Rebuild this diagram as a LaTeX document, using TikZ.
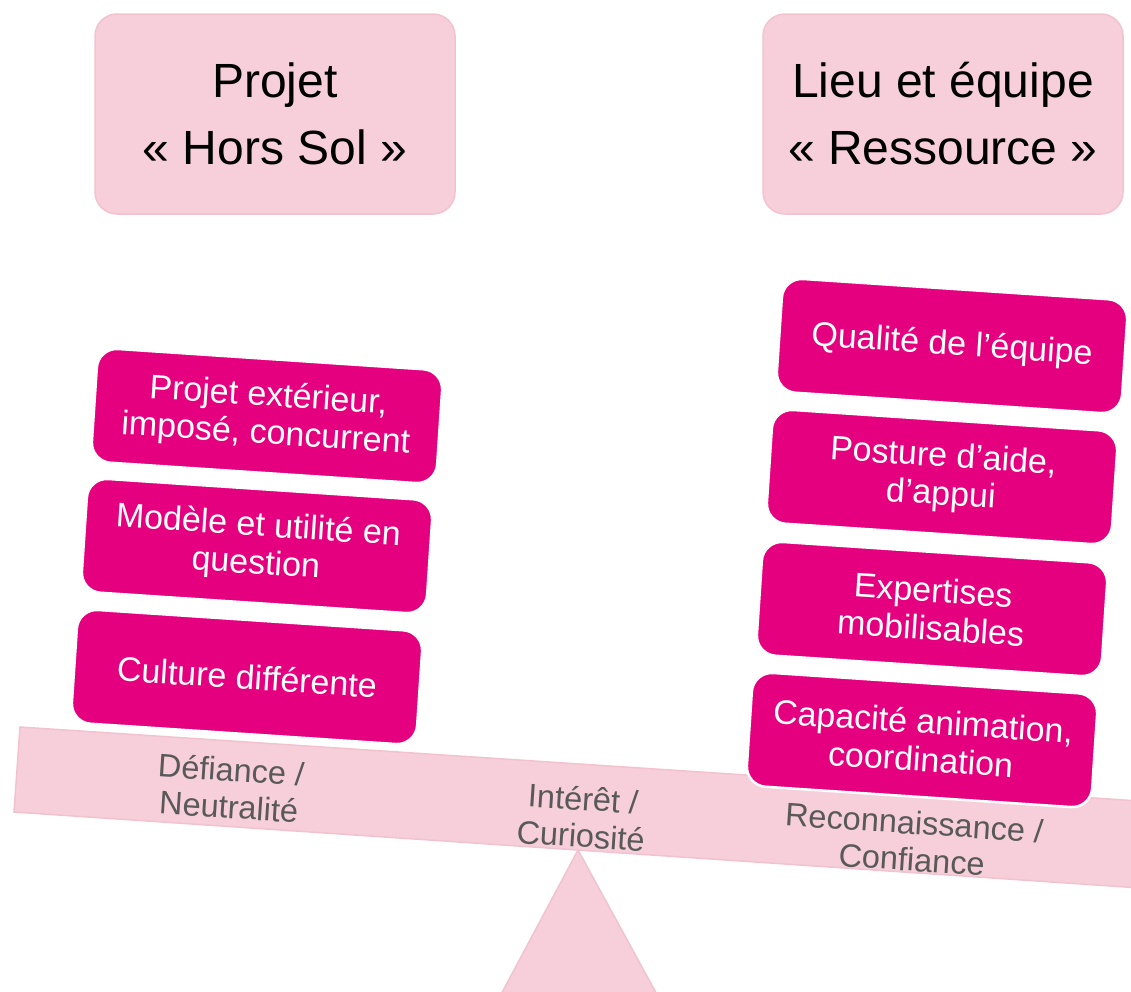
\documentclass[tikz,border=0pt]{standalone}
\usepackage{fontspec}
\setmainfont{Liberation Sans}
\definecolor{pinklight}{HTML}{F6CFDA}
\definecolor{pinkedge}{HTML}{F2C2CF}
\definecolor{magentabox}{HTML}{E4007E}
\definecolor{graytext}{HTML}{595959}
\begin{document}
\begin{tikzpicture}[x=1pt,y=-1pt,
  titlebox/.style={draw=pinkedge,line width=1.5pt,fill=pinklight,rounded corners=22pt,
    minimum width=360pt,minimum height=200pt,inner sep=0pt,align=center,
    font=\fontsize{48}{67}\selectfont,text=black},
  factor/.style={draw=white,line width=2.5pt,fill=magentabox,rounded corners=20pt,
    minimum width=346pt,minimum height=114pt,inner sep=0pt,align=center,
    rotate=-3.8,text=white,font=\fontsize{34}{38}\selectfont},
  beamlabel/.style={align=center,text=graytext,rotate=-3.8,inner sep=0pt,
    font=\fontsize{32.5}{37}\selectfont},
  beamstyle/.style={fill=pinklight,draw=pinkedge,line width=1.5pt}]
\useasboundingbox (0,0) rectangle (1131,991);
\clip (0,0) rectangle (1131,991);
% fulcrum
\path[beamstyle] (578,850) -- (498,1000) -- (660,1000) -- cycle;
% beam
\path[beamstyle] (20,727) -- (1200,805) -- (1200,892) -- (14,812) -- cycle;
% title boxes
\node[titlebox] (hors) at (275,114) {Projet\\« Hors Sol »};
\node[titlebox] (ress) at (943,114) {Lieu et équipe\\« Ressource »};
% left factors
\node[factor] (ext) at (267,416) {Projet extérieur,\\imposé, concurrent};
\node[factor] (mod) at (257,546) {Modèle et utilité en\\question};
\node[factor] (cul) at (247,677) {Culture différente};
% right factors
\node[factor] (qual) at (952,346) {Qualité de l’équipe};
\node[factor] (post) at (942,477) {Posture d’aide,\\d’appui};
\node[factor] (expe) at (932,609) {Expertises\\mobilisables};
\node[factor] (capa) at (922,740) {Capacité animation,\\coordination};
% beam labels
\node[beamlabel] (def) at (230,788) {Défiance /\\Neutralité};
\node[beamlabel] (int) at (582,817) {Intérêt /\\Curiosité};
\node[beamlabel] (rec) at (913,841) {Reconnaissance /\\Confiance};
\end{tikzpicture}
\end{document}
